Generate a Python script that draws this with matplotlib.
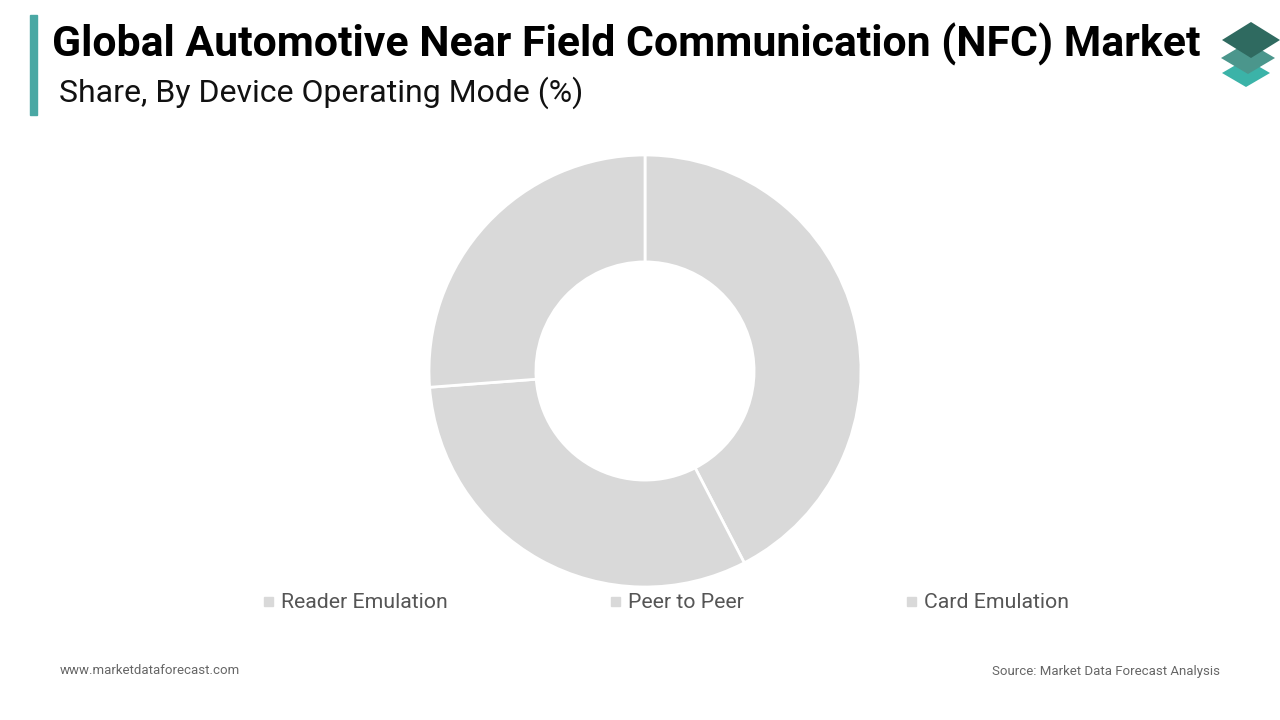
import matplotlib.pyplot as plt
from matplotlib.patches import Rectangle, Polygon

plt.rcParams['font.family'] = ['Roboto', 'DejaVu Sans']

# data
modes = ['Reader Emulation', 'Peer to Peer', 'Card Emulation']
shares = [42.4, 31.4, 26.2]
slice_colors = ['#d9d9d9', '#d9d9d9', '#d9d9d9']

W, H = 1280, 720
fig = plt.figure(figsize=(12.8, 7.2), dpi=100)
fig.patch.set_facecolor('white')

def fx(x):
    return x / W

def fy(y):
    return 1 - y / H

# donut
cx, cy, r = 645, 371, 216
ax = fig.add_axes([fx(cx - r), fy(cy + r), 2 * r / W, 2 * r / H])
ax.pie(shares, colors=slice_colors, startangle=90, counterclock=False,
       radius=1, wedgeprops=dict(width=0.495, edgecolor='white', linewidth=2))
ax.set_xlim(-1, 1)
ax.set_ylim(-1, 1)
ax.set_aspect('equal')
ax.axis('off')

# title block
fig.patches.append(Rectangle((fx(30), fy(115)), 7 / W, 100 / H,
                             transform=fig.transFigure, color='#4aa8a4'))
fig.text(fx(52), fy(44), 'Global Automotive Near Field Communication (NFC) Market',
         fontsize=30.8, fontweight='bold', color='black', va='center', ha='left')
fig.text(fx(59), fy(93), 'Share, By Device Operating Mode (%)',
         fontsize=23, color='#111111', va='center', ha='left')

# logo
def diamond(xc, yc, hw, hh, col):
    pts = [(fx(xc - hw), fy(yc)), (fx(xc), fy(yc - hh)),
           (fx(xc + hw), fy(yc)), (fx(xc), fy(yc + hh))]
    fig.patches.append(Polygon(pts, closed=True, transform=fig.transFigure,
                               facecolor=col, edgecolor='none'))

diamond(1246, 73, 24, 14, '#3bb3a8')
diamond(1248, 58, 27, 16, '#4b968c')
diamond(1251, 40, 29, 18, '#2f6a60')

# legend
leg_x = [264, 611, 907]
for lx, name, col in zip(leg_x, modes, slice_colors):
    fig.patches.append(Rectangle((fx(lx), fy(606)), 9 / W, 9 / H,
                                 transform=fig.transFigure, color=col))
    fig.text(fx(lx + 17), fy(602), name, fontsize=15.3, color='#555555',
             va='center', ha='left')

# footer
fig.text(fx(60), fy(671), 'www.marketdataforecast.com', fontsize=9.5,
         color='#666666', va='center', ha='left')
fig.text(fx(1220), fy(671), 'Source: Market Data Forecast Analysis', fontsize=9.5,
         color='#666666', va='center', ha='right')

fig.savefig('out.png', dpi=100)
